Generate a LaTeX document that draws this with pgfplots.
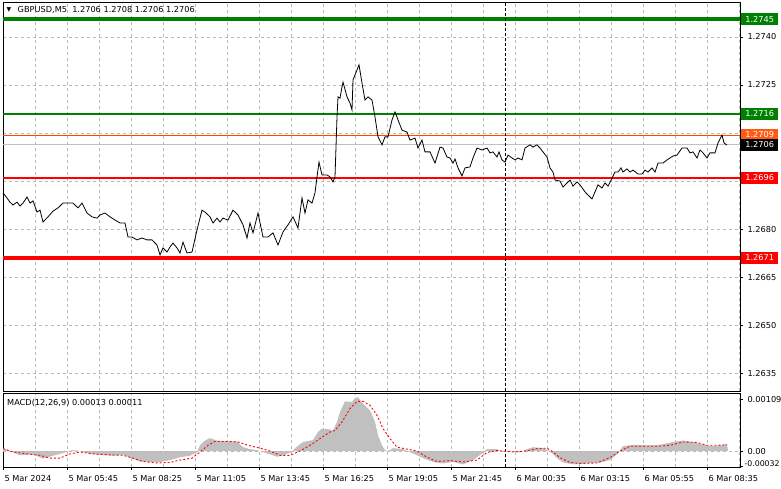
\documentclass[border=0pt]{standalone}
\usepackage{fontspec}
\setmainfont{DejaVu Sans}
\usepackage{pgfplots}
\pgfplotsset{compat=1.18}
\definecolor{mtgreen}{RGB}{0,128,0}
\definecolor{mtred}{RGB}{255,0,0}
\definecolor{mtorange}{RGB}{255,69,0}
\definecolor{mtorangebox}{RGB}{255,90,20}
\definecolor{mtsilver}{RGB}{192,192,192}
\definecolor{gridc}{RGB}{185,185,185}
\pgfplotsset{
  mtbase/.style={
    scale only axis, width=737bp,
    xmin=0, xmax=368.5,
    clip=false,
    axis line style={line width=0.8bp, black},
    xtick={0,32,...,352},
    minor xtick={16,48,...,368},
    xmajorgrids, xminorgrids,
    major grid style={dash pattern=on 3bp off 3bp, color=gridc, line width=0.6bp},
    minor grid style={dash pattern=on 3bp off 3bp, color=gridc, line width=0.6bp},
    every tick label/.append style={font=\fontsize{8.2bp}{10bp}\selectfont, text=black},
    tick style={black, line width=0.6bp},
    major tick length=3bp, minor tick length=0bp,
    ytick pos=right, yticklabel pos=right,
    tick align=outside,
    yticklabel style={anchor=west, xshift=1bp},
  }
}
\begin{document}
\begin{tikzpicture}
\path[use as bounding box] (0,0) rectangle (781bp,-489bp);
\begin{axis}[mtbase, name=main, at={(3bp,-2bp)}, anchor=north west,
  height=389bp, ymin=1.262938, ymax=1.275094,
  xticklabels={}, x tick style={draw=none},
  ytick={1.2635,1.2650,1.2665,1.2680,1.2695,1.2710,1.2725,1.2740},
  yticklabels={1.2635,1.2650,1.2665,1.2680,,,1.2725,1.2740},
  ymajorgrids]
% level lines
\addplot[mtgreen, line width=3.3bp] coordinates {(0,1.27456) (368.5,1.27456)};
\addplot[mtgreen, line width=2bp] coordinates {(0,1.2716) (368.5,1.2716)};
\addplot[mtred, line width=2bp] coordinates {(0,1.2696) (368.5,1.2696)};
\addplot[mtred, line width=3.6bp] coordinates {(0,1.2671) (368.5,1.2671)};
\addplot[mtorange, line width=0.8bp] coordinates {(0,1.27094) (368.5,1.27094)};
\addplot[mtsilver, line width=0.8bp] coordinates {(0,1.27063) (368.5,1.27063)};
\addplot[black, line width=0.8bp, dash pattern=on 3bp off 2bp] coordinates {(251,1.262938) (251,1.275094)};
% price
\addplot[black, line width=0.8bp] table {
0 1.26913
2 1.26897
3.5 1.26884
5 1.26875
7 1.26884
8.5 1.26872
10 1.26881
12 1.26900
13.5 1.26881
15 1.26888
17 1.26853
18.5 1.26859
20 1.26822
22.5 1.26838
25 1.26856
27.5 1.26866
30 1.26881
32.5 1.26881
35 1.26881
37.5 1.26866
39.5 1.26881
42 1.26850
44.5 1.26838
47 1.26834
48.5 1.26844
51 1.26850
53.5 1.26838
56 1.26828
58.5 1.26819
61 1.26819
62.5 1.26775
64.5 1.26775
67 1.26766
69.5 1.26772
72 1.26766
74.5 1.26766
77 1.26750
78.5 1.26719
80 1.26741
82 1.26728
83.5 1.26744
85 1.26756
87 1.26741
88.5 1.26725
90 1.26759
92 1.26725
94.5 1.26728
97 1.26797
99.5 1.26859
101 1.26853
103.5 1.26838
105 1.26819
107 1.26834
108.5 1.26822
110 1.26834
112.5 1.26828
115 1.26859
117.5 1.26844
120 1.26813
122 1.26772
123.5 1.26819
125 1.26788
127.5 1.26850
130 1.26775
132.5 1.26775
135 1.26788
137.5 1.26750
140 1.26791
142.5 1.26813
145 1.26838
147.5 1.26803
149.5 1.26897
151 1.26850
152.5 1.26891
154.5 1.26881
156 1.26913
157 1.26963
158 1.27009
159.5 1.26969
162 1.26969
163.5 1.26963
165 1.26947
166 1.26963
167 1.27150
167.5 1.27213
168.5 1.27209
169.5 1.27244
170 1.27259
172 1.27213
173.5 1.27194
174.5 1.27172
175 1.27266
177 1.27297
178 1.27313
179.5 1.27256
181 1.27203
182.5 1.27213
184.5 1.27203
186 1.27150
187.5 1.27088
189.5 1.27063
191 1.27088
192.5 1.27088
194.5 1.27141
196 1.27166
197.5 1.27141
199.5 1.27109
202 1.27103
203.5 1.27078
206 1.27084
207.5 1.27053
209.5 1.27078
211 1.27041
213.5 1.27041
216 1.27006
218.5 1.27056
220 1.27053
222 1.27025
223.5 1.27022
225 1.27006
226 1.27019
227.5 1.26991
229.5 1.26966
231 1.26991
233.5 1.26994
235 1.27022
237 1.27053
239.5 1.27047
242 1.27053
243.5 1.27038
245 1.27041
247 1.27025
248 1.27041
249.5 1.27016
251 1.27009
252.5 1.27031
254.5 1.27022
256 1.27016
257.5 1.27022
259.5 1.27016
261 1.27053
263.5 1.27063
265 1.27056
267 1.27063
268.5 1.27053
270 1.27041
272 1.27025
273.5 1.26991
275 1.26978
276 1.26953
278.5 1.26950
280 1.26931
282 1.26944
283.5 1.26953
285 1.26934
287 1.26947
288.5 1.26938
291 1.26916
292.5 1.26906
294.5 1.26894
296 1.26916
297.5 1.26938
299.5 1.26928
301 1.26944
302.5 1.26934
304.5 1.26959
306 1.26978
307.5 1.26978
309 1.26991
310 1.26978
312 1.26988
313.5 1.26978
315 1.26984
317.5 1.26972
319.5 1.26972
321 1.26984
322.5 1.26978
324.5 1.26991
326 1.26978
327.5 1.27006
330 1.27006
332 1.27016
333.5 1.27022
335 1.27028
337 1.27031
339.5 1.27053
342 1.27053
343.5 1.27038
345 1.27041
347 1.27022
348.5 1.27047
350 1.27038
352 1.27022
353.5 1.27038
356 1.27038
357.5 1.27069
359.5 1.27094
360.5 1.27069
362 1.27062
};
% price boxes
\tikzset{pbox/.style={anchor=west, xshift=1bp, inner sep=0pt, minimum width=37bp, minimum height=11.5bp, text=white, font=\fontsize{8.2bp}{10bp}\selectfont}}
\node[pbox, fill=mtgreen] at (axis cs:368.5,1.27456) {1.2745};
\node[pbox, fill=mtgreen] at (axis cs:368.5,1.2716) {1.2716};
\node[pbox, fill=mtorangebox] at (axis cs:368.5,1.27094) {1.2709};
\node[pbox, fill=black] at (axis cs:368.5,1.27063) {1.2706};
\node[pbox, fill=mtred] at (axis cs:368.5,1.2696) {1.2696};
\node[pbox, fill=mtred] at (axis cs:368.5,1.2671) {1.2671};
\end{axis}
\node[inner sep=0pt, font=\fontsize{6bp}{6bp}\selectfont] at (9bp,-10bp) {▼};
\node[anchor=west, inner sep=0pt, font=\fontsize{8.2bp}{10bp}\selectfont] at (17.5bp,-10bp) {GBPUSD,M5\ \ 1.2706 1.2708 1.2706 1.2706};
\begin{axis}[mtbase, name=macd, at={(3bp,-393bp)}, anchor=north west,
  height=74bp, ymin=-0.000335, ymax=0.001216,
  xtick pos=bottom,
  xticklabels={5 Mar 2024, 5 Mar 05:45, 5 Mar 08:25, 5 Mar 11:05, 5 Mar 13:45, 5 Mar 16:25, 5 Mar 19:05, 5 Mar 21:45, 6 Mar 00:35, 6 Mar 03:15, 6 Mar 05:55, 6 Mar 08:35},
  xticklabel style={anchor=north west, xshift=-2bp, yshift=-2bp},
  ytick={0,0.00109}, yticklabels={0.00,0.00109},
  extra y ticks={-0.00032}, extra y tick labels={-0.00032},
  extra y tick style={yticklabel style={yshift=3bp, xshift=-3bp, font=\fontsize{7.8bp}{9bp}\selectfont}},
  scaled y ticks=false]
\addplot[fill=mtsilver, draw=none] table {
0 0
0 0.00006
3.5 0.0
8.5 -0.00009
15 -0.00007
20 -0.00016
25 -0.0001
32 -0.00002
34.5 0.00002
38.5 0
43.5 -0.00006
48.5 -0.00008
55 -0.0001
60 -0.00008
65 -0.00016
68.5 -0.00022
73.5 -0.00023
78.5 -0.00023
83.5 -0.00019
88.5 -0.00013
93.5 -0.0001
97 -0.00002
98.5 0.00012
101 0.00022
103.5 0.00027
107 0.00022
112 0.0002
117 0.0002
120 0.00008
123.5 0.00004
127 0.00002
132 -0.00005
137 -0.00012
140 -0.00009
144.5 -0.00002
146 0.00006
150 0.00019
155 0.00023
157.5 0.0004
159.5 0.00047
162.5 0.00046
165 0.00043
167 0.00061
168.5 0.00082
171 0.00104
174.5 0.00103
176 0.00111
177.5 0.00113
180 0.00099
183.5 0.00085
186 0.00061
187.5 0.00033
189.5 0.00012
191 0.00002
192.5 0
195 0.00006
200 0.00004
205 -0.00005
210 -0.00015
215 -0.00023
220 -0.00026
225 -0.00023
230 -0.00028
235 -0.00019
239.5 -0.00005
242 0.00004
247 0.00004
248.5 0
253.5 -0.00001
258.5 -0.00003
262 0.00004
265 0.00008
270 0.00006
273.5 0
277 -0.00015
280 -0.00024
285 -0.00028
292 -0.00026
298.5 -0.00024
303.5 -0.00019
307.5 -0.00005
310 0.0001
315 0.00013
322 0.00012
328.5 0.00013
335 0.00019
340 0.00022
345 0.00019
350 0.00013
355 0.0001
359.5 0.00013
362 0.00015
362.5 0
} -- cycle;
\addplot[gridc, line width=0.6bp, dash pattern=on 3bp off 3bp] coordinates {(0,0) (368.5,0)};
\addplot[black, line width=0.8bp, dash pattern=on 3bp off 2bp] coordinates {(251,-0.000335) (251,0.001216)};
\addplot[mtred, line width=0.9bp, dash pattern=on 2bp off 2bp] table {
0 0.00005
5 -0.00002
12 -0.00006
18.5 -0.00009
23.5 -0.00015
28.5 -0.00015
33.5 -0.00006
38.5 -0.00002
45 -0.00006
53.5 -0.00008
60 -0.00009
65 -0.00015
70 -0.00022
77 -0.00025
83.5 -0.00024
88.5 -0.00019
94.5 -0.00015
98.5 -0.00002
102.5 0.00012
106 0.0002
112 0.0002
117.5 0.00019
122.5 0.00012
128.5 0.00006
133.5 0
138.5 -0.00009
143.5 -0.00009
148.5 0
153.5 0.00012
158.5 0.00026
163.5 0.0004
166 0.00043
169.5 0.00061
173.5 0.00089
177 0.00104
180 0.00104
183.5 0.00096
187 0.00075
190 0.00047
193.5 0.00026
197 0.00008
202 0.00004
207 0
212 -0.00013
217 -0.00022
223.5 -0.0002
230 -0.00023
237 -0.00019
242 -0.00003
247 0.00001
255 -0.00002
262 0
267 0.00005
272 0.00006
275 -0.00002
278.5 -0.00014
283.5 -0.00024
288.5 -0.00026
297 -0.00025
303.5 -0.00014
308.5 0
313.5 0.0001
320 0.0001
327 0.0001
333.5 0.00012
340 0.00019
347 0.00018
352 0.00012
357 0.00012
362 0.00013
};
\end{axis}
\node[anchor=west, inner sep=0pt, font=\fontsize{8.2bp}{10bp}\selectfont] at (7bp,-402.5bp) {MACD(12,26,9) 0.00013 0.00011};
\end{tikzpicture}
\end{document}
